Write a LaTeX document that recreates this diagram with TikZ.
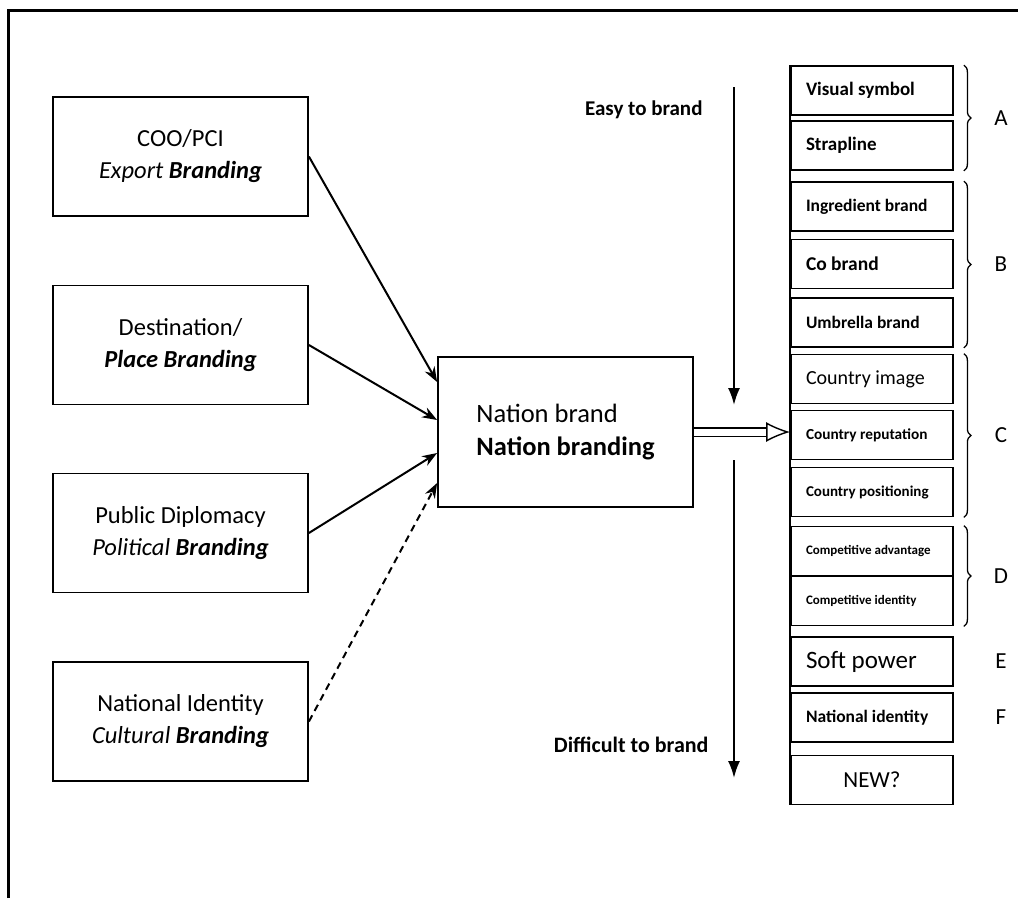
\documentclass[tikz,border=0pt]{standalone}
\usepackage{fontspec}
\setmainfont{Carlito}
\usetikzlibrary{arrows.meta,decorations.pathreplacing}

\begin{document}
\begin{tikzpicture}[x=1pt,y=-1pt,
	src/.style={draw,line width=1.8pt,minimum width=255pt,minimum height=119pt,align=center,font=\fontsize{24.5}{32}\selectfont},
	lvl/.style={draw,line width=1.8pt,minimum width=162pt,minimum height=49pt,text width=132pt,inner xsep=15pt,align=flush left},
	tag/.style={font=\fontsize{23}{26}\selectfont},
	curly/.style={decorate,decoration={brace,amplitude=7pt},line width=1.3pt},
	feed/.style={-{Stealth[length=15pt,width=11pt]},line width=2pt},
	down/.style={-{Latex[length=17pt,width=12pt]},line width=2pt},
	hollow/.style={double,double distance=7pt,line width=1.4pt,-{Latex[open,length=24pt,width=20pt]}}]
	\useasboundingbox (0,0) rectangle (1018,898);
	\draw[line width=3pt] (8,898) -- (8,10) -- (1018,10);
	% sources
	\node[src] (coo) at (180.5,156.5) {COO/PCI\\\textit{Export} \textbf{\textit{Branding}}};
	\node[src] (dest) at (180.5,345) {Destination/\\\textbf{\textit{Place Branding}}};
	\node[src] (public) at (180.5,533) {Public Diplomacy\\\textit{Political} \textbf{\textit{Branding}}};
	\node[src] (natident) at (180.5,721.5) {National Identity\\\textit{Cultural} \textbf{\textit{Branding}}};
	\node[draw,line width=1.8pt,minimum width=255pt,minimum height=150pt,align=left,font=\fontsize{26.5}{33}\selectfont] (nation) at (565.5,432) {Nation brand\\\textbf{Nation branding}};
	\draw[feed] (coo.east) -- ([yshift=50pt]nation.west);
	\draw[feed] (dest.east) -- ([yshift=12pt]nation.west);
	\draw[feed] (public.east) -- ([yshift=-21pt]nation.west);
	\draw[feed,dash pattern=on 7pt off 5pt] (natident.east) -- ([yshift=-51pt]nation.west);
	% levels
	\node[lvl,font=\bfseries\fontsize{19}{22}\selectfont] (visual) at (872,90.5) {Visual symbol};
	\node[lvl,font=\bfseries\fontsize{19}{22}\selectfont] (strap) at (872,145.5) {Strapline};
	\node[lvl,font=\bfseries\fontsize{17.5}{20}\selectfont] (ingred) at (872,206.5) {Ingredient brand};
	\node[lvl,font=\bfseries\fontsize{19.5}{22}\selectfont] (cobrand) at (872,264) {Co brand};
	\node[lvl,font=\bfseries\fontsize{17.5}{20}\selectfont] (umbrella) at (872,322.5) {Umbrella brand};
	\node[lvl,font=\fontsize{20}{22}\selectfont] (image) at (872,379) {Country image};
	\node[lvl,font=\bfseries\fontsize{15.3}{18}\selectfont] (reput) at (872,435) {Country reputation};
	\node[lvl,font=\bfseries\fontsize{15}{18}\selectfont] (posit) at (872,492) {Country positioning};
	\node[lvl,font=\bfseries\fontsize{13}{15}\selectfont] (advant) at (872,551) {Competitive advantage};
	\node[lvl,font=\bfseries\fontsize{13}{15}\selectfont] (compid) at (872,601) {Competitive identity};
	\node[lvl,font=\fontsize{25}{28}\selectfont] (soft) at (872,661.5) {Soft power};
	\node[lvl,font=\bfseries\fontsize{17.5}{20}\selectfont] (natid) at (872,717.5) {National identity};
	\node[lvl,align=center,font=\fontsize{23}{26}\selectfont] (new) at (872,780) {NEW?};
	\draw[line width=1.8pt] (visual.north west) -- (new.south west);
	\draw[hollow] (nation.east) -- (nation.east -| reput.west);
	% groups
	\draw[curly] ([xshift=10pt]visual.north east) -- ([xshift=10pt]strap.south east) node[midway,xshift=37pt,tag] (ga) {A};
	\draw[curly] ([xshift=10pt]ingred.north east) -- ([xshift=10pt]umbrella.south east) node[midway,xshift=37pt,tag] (gb) {B};
	\draw[curly] ([xshift=10pt]image.north east) -- ([xshift=10pt]posit.south east) node[midway,xshift=37pt,tag] (gc) {C};
	\draw[curly] ([xshift=10pt]advant.north east) -- ([xshift=10pt]compid.south east) node[midway,xshift=37pt,tag] (gd) {D};
	\node[tag] (ge) at ([xshift=47pt]soft.east) {E};
	\node[tag] (gf) at ([xshift=47pt]natid.east) {F};
	% ease of branding
	\coordinate (easytop) at (734,87);
	\coordinate (easyend) at (734,405);
	\coordinate (hardtop) at (734,460);
	\coordinate (hardend) at (734,778);
	\draw[down] (easytop) -- (easyend);
	\draw[down] (hardtop) -- (hardend);
	\node[anchor=east,font=\bfseries\fontsize{21}{24}\selectfont] (easy) at (706,110) {Easy to brand};
	\node[anchor=east,font=\bfseries\fontsize{22}{24}\selectfont] (hard) at (712,745) {Difficult to brand};
\end{tikzpicture}
\end{document}
